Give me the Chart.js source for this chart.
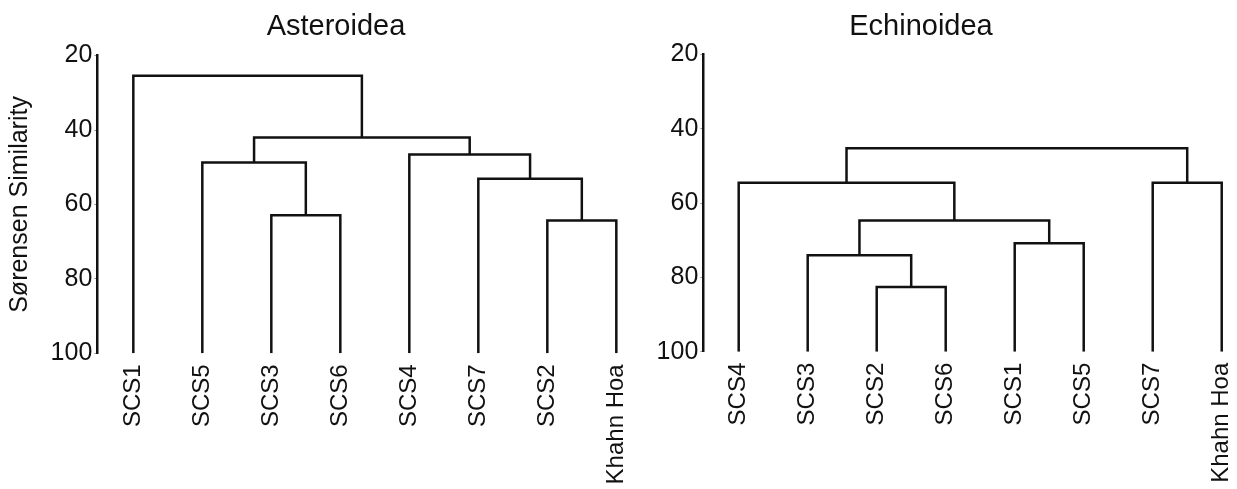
<!DOCTYPE html>
<html><head><meta charset="utf-8">
<script src="https://cdn.jsdelivr.net/npm/chart.js@4.4.1/dist/chart.umd.min.js"></script>
<style>
html,body{margin:0;padding:0;background:#fff;overflow:hidden;width:1237px;height:489px;}
#c1{position:absolute;left:0;top:0;width:682px;height:489px;}
#c2{position:absolute;left:612px;top:0;width:620px;height:489px;}
</style></head><body>
<canvas id="c1" width="682" height="489"></canvas>
<canvas id="c2" width="620" height="489"></canvas>
<script>
// ---- Data ----
const yTicks = [20, 40, 60, 80, 100];

// Asteroidea dendrogram: leaves in display order, merges (node ids: leaves 0..7, new nodes 8..)
const astLeaves  = ['SCS1', 'SCS5', 'SCS3', 'SCS6', 'SCS4', 'SCS7', 'SCS2', 'Khahn Hoa'];
const astMergeA  = [2, 6, 5, 4, 1, 12, 0];
const astMergeB  = [3, 7, 9, 10, 8, 11, 13];
const astHeights = [62.9, 64.3, 53.1, 46.6, 48.7, 42.0, 25.4];

// Echinoidea dendrogram
const echLeaves  = ['SCS4', 'SCS3', 'SCS2', 'SCS6', 'SCS1', 'SCS5', 'SCS7', 'Khahn Hoa'];
const echMergeA  = [2, 1, 4, 9, 0, 6, 12];
const echMergeB  = [3, 8, 5, 10, 11, 7, 13];
const echHeights = [82.6, 74.0, 70.8, 64.7, 54.5, 54.5, 45.2];

const FONT = '"Liberation Sans", Arial, sans-serif';
const INK = '#111';

function buildDatasets(leaves, mA, mB, heights) {
  const pos = leaves.map((_, i) => i);
  const hgt = leaves.map(() => 100);
  const ds = [];
  for (let k = 0; k < heights.length; k++) {
    const a = mA[k], b = mB[k], h = heights[k];
    ds.push({
      data: [{x: pos[a], y: hgt[a]}, {x: pos[a], y: h}, {x: pos[b], y: h}, {x: pos[b], y: hgt[b]}],
      borderColor: INK, borderWidth: 2.5, pointRadius: 0, fill: false, tension: 0,
      borderJoinStyle: 'miter', borderCapStyle: 'butt'
    });
    pos.push((pos[a] + pos[b]) / 2);
    hgt.push(h);
  }
  return ds;
}

function makeChart(id, title, leaves, mA, mB, heights, cfg) {
  return new Chart(document.getElementById(id), {
    type: 'line',
    data: { datasets: buildDatasets(leaves, mA, mB, heights) },
    options: {
      responsive: false, animation: false, devicePixelRatio: 1,
      layout: { padding: { left: 0, right: cfg.padRight, top: 0, bottom: 0 } },
      plugins: {
        legend: { display: false }, tooltip: { enabled: false },
        title: { display: true, text: title, color: INK,
          font: { family: FONT, size: 29, weight: 'normal', lineHeight: 1.2 },
          padding: { top: 10, bottom: cfg.titleBottom } }
      },
      scales: {
        x: {
          type: 'linear', min: cfg.xMin, max: cfg.xMax,
          grid: { display: false }, border: { display: false },
          afterBuildTicks: s => { s.ticks = leaves.map((_, i) => ({ value: i })); },
          afterFit: s => { s.height = cfg.xHeight; s.paddingLeft = 0; s.paddingRight = 0; },
          ticks: { autoSkip: false, minRotation: 90, maxRotation: 90, padding: 3, color: INK,
            font: { family: FONT, size: 24 },
            callback: v => leaves[v] }
        },
        y: {
          type: 'linear', min: 20, max: 100, reverse: true,
          afterBuildTicks: s => { s.ticks = yTicks.map(v => ({ value: v })); },
          afterFit: s => { s.width = cfg.yWidth; },
          grid: { display: true, drawOnChartArea: false, drawTicks: true, tickLength: 3, color: '#999', lineWidth: 1 },
          border: { display: true, color: INK, width: 2.5 },
          ticks: { padding: 2, color: INK, font: { family: FONT, size: 25 } },
          title: { display: cfg.yTitle !== '', text: cfg.yTitle, color: INK,
            font: { family: FONT, size: 25 }, padding: { top: 5, bottom: 0 } }
        }
      }
    }
  });
}

makeChart('c1', 'Asteroidea', astLeaves, astMergeA, astMergeB, astHeights,
  { xMin: -0.522, xMax: 7.807, yWidth: 97.3, xHeight: 489 - 353.3, padRight: 10, titleBottom: 10.8, yTitle: 'Sørensen Similarity' });
makeChart('c2', 'Echinoidea', echLeaves, echMergeA, echMergeB, echHeights,
  { xMin: -0.513, xMax: 7.12, yWidth: 91.3, xHeight: 489 - 351.7, padRight: 2, titleBottom: 9.8, yTitle: '' });
</script>
</body></html>
